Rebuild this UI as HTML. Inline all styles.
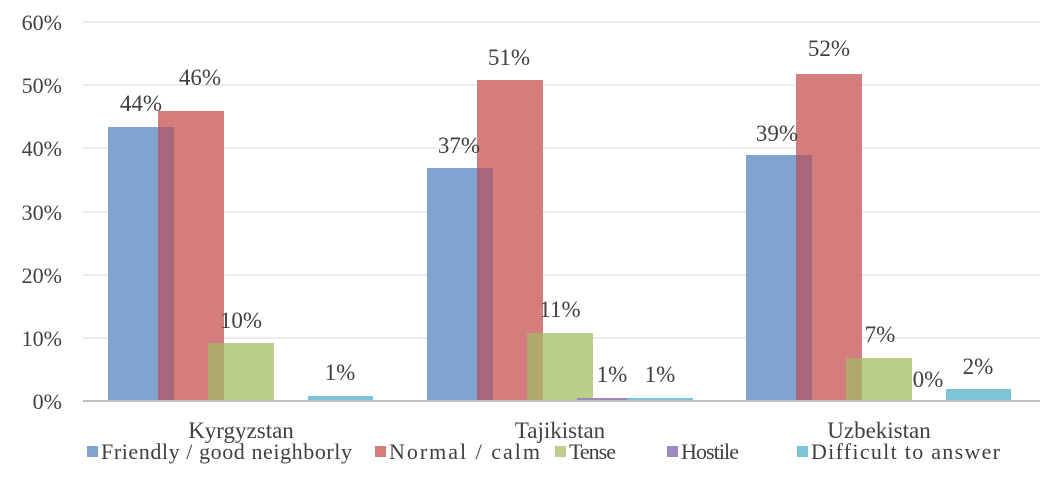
<!DOCTYPE html>
<html><head><meta charset="utf-8"><style>
body{margin:0;background:#fff}
svg text{font-family:"Liberation Serif",serif;fill:#404040}
</style></head><body>
<svg width="1060" height="495" xmlns="http://www.w3.org/2000/svg">
<g stroke="#e6e6e6" stroke-width="1.5">
<line x1="83" x2="1040" y1="22" y2="22"/><line x1="83" x2="1040" y1="85" y2="85"/>
<line x1="83" x2="1040" y1="148" y2="148"/><line x1="83" x2="1040" y1="212" y2="212"/>
<line x1="83" x2="1040" y1="275" y2="275"/><line x1="83" x2="1040" y1="338" y2="338"/>
</g>
<g font-size="22" text-anchor="end">
<text x="62" y="30">60%</text><text x="62" y="93">50%</text><text x="62" y="156">40%</text>
<text x="62" y="220">30%</text><text x="62" y="283">20%</text><text x="62" y="346">10%</text>
<text x="62" y="409">0%</text>
</g>
<rect x="108" y="127" width="66" height="274" fill="#7fa4d0"/>
<rect x="158" y="111" width="66" height="290" fill="#d57c7c"/>
<rect x="158" y="127" width="16" height="274" fill="#a8677a"/>
<rect x="208" y="343" width="66" height="58" fill="#bccf8a"/>
<rect x="208" y="343" width="16" height="58" fill="#b0a86c"/>
<rect x="308" y="396" width="65" height="5" fill="#7cc4d8"/>
<rect x="427" y="168" width="66" height="233" fill="#7fa4d0"/>
<rect x="477" y="80" width="66" height="321" fill="#d57c7c"/>
<rect x="477" y="168" width="16" height="233" fill="#a8677a"/>
<rect x="527" y="333" width="66" height="68" fill="#bccf8a"/>
<rect x="527" y="333" width="16" height="68" fill="#b0a86c"/>
<rect x="577" y="398" width="66" height="3" fill="#9d88bf"/>
<rect x="627" y="398" width="66" height="3" fill="#7cc4d8"/>
<rect x="746" y="155" width="66" height="246" fill="#7fa4d0"/>
<rect x="796" y="74" width="66" height="327" fill="#d57c7c"/>
<rect x="796" y="155" width="16" height="246" fill="#a8677a"/>
<rect x="846" y="358" width="66" height="43" fill="#bccf8a"/>
<rect x="846" y="358" width="16" height="43" fill="#b0a86c"/>
<rect x="946" y="389" width="65" height="12" fill="#7cc4d8"/>
<line x1="83" x2="1040" y1="401" y2="401" stroke="#bfbfbf" stroke-width="2"/>
<g font-size="23" text-anchor="middle">
<text x="141" y="111">44%</text><text x="200" y="85">46%</text><text x="241" y="328">10%</text><text x="340" y="380">1%</text>
<text x="459" y="153">37%</text><text x="509" y="65">51%</text><text x="560" y="317">11%</text><text x="612" y="382">1%</text><text x="660" y="382">1%</text>
<text x="777" y="141">39%</text><text x="829" y="56">52%</text><text x="880" y="342">7%</text><text x="928" y="387">0%</text><text x="978" y="374">2%</text>
</g>
<g font-size="23" text-anchor="middle">
<text x="241" y="438">Kyrgyzstan</text><text x="560" y="438">Tajikistan</text><text x="879" y="438">Uzbekistan</text>
</g>
<g font-size="22">
<rect x="87" y="446" width="11" height="11" fill="#7fa4d0"/><text x="101" y="459" textLength="251" lengthAdjust="spacing">Friendly / good neighborly</text>
<rect x="375" y="446" width="11" height="11" fill="#d57c7c"/><text x="389" y="459" textLength="151" lengthAdjust="spacing">Normal / calm</text>
<rect x="555" y="446" width="11" height="11" fill="#bccf8a"/><text x="569" y="459" textLength="47" lengthAdjust="spacing">Tense</text>
<rect x="667" y="446" width="11" height="11" fill="#9d88bf"/><text x="681" y="459" textLength="58" lengthAdjust="spacing">Hostile</text>
<rect x="797" y="446" width="11" height="11" fill="#7cc4d8"/><text x="811" y="459" textLength="189" lengthAdjust="spacing">Difficult to answer</text>
</g>
</svg>
</body></html>
